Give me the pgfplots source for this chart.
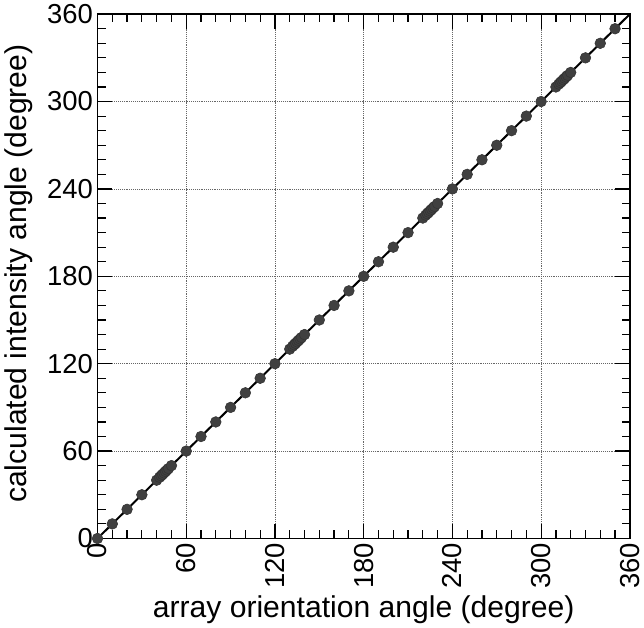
\documentclass[border=0pt]{standalone}
\usepackage{fontspec}
\setmainfont{Liberation Sans}
\usepackage{pgfplots}
\pgfplotsset{compat=1.18}

\begin{document}
\begin{tikzpicture}
\begin{axis}[
    width=398pt, height=392pt,
    scale only axis,
    xmin=0, xmax=360, ymin=0, ymax=360,
    xtick={0,60,...,360}, ytick={0,60,...,360},
    minor tick num=5,
    tick align=inside,
    major tick length=11pt,
    minor tick length=6pt,
    xticklabel style={rotate=90, anchor=east},
    tick label style={font=\fontsize{20.5}{21}\selectfont},
    /pgf/number format/assume math mode=true,
    xlabel={array orientation angle (degree)},
    ylabel={calculated intensity angle (degree)},
    label style={font=\fontsize{22.5}{23}\selectfont},
    xlabel style={yshift=2pt},
    ylabel style={yshift=4pt, xshift=2pt},
    grid=major,
    major grid style={densely dotted, black!60, line width=0.6pt},
    axis line style={line width=1pt},
    every tick/.style={black, line width=0.9pt},
    clip=false,
]
\addplot[black, line width=1.5pt] coordinates {(0,0) (360,360)};
\addplot[only marks, mark=*, mark size=4pt,
    mark options={fill=black!75, draw=black!80}] coordinates {
    (0,0) (10,10) (20,20) (30,30)
    (40,40) (42,42) (43,43) (44,44) (45,45) (46,46) (47,47) (48,48) (50,50)
    (60,60) (70,70) (80,80) (90,90) (100,100) (110,110) (120,120)
    (130,130) (132,132) (133,133) (134,134) (135,135) (136,136) (137,137) (138,138) (140,140)
    (150,150) (160,160) (170,170) (180,180) (190,190) (200,200) (210,210)
    (220,220) (222,222) (223,223) (224,224) (225,225) (226,226) (227,227) (228,228) (230,230)
    (240,240) (250,250) (260,260) (270,270) (280,280) (290,290) (300,300)
    (310,310) (312,312) (313,313) (314,314) (315,315) (316,316) (317,317) (318,318) (320,320)
    (330,330) (340,340) (350,350)
};
\end{axis}
\end{tikzpicture}
\end{document}
